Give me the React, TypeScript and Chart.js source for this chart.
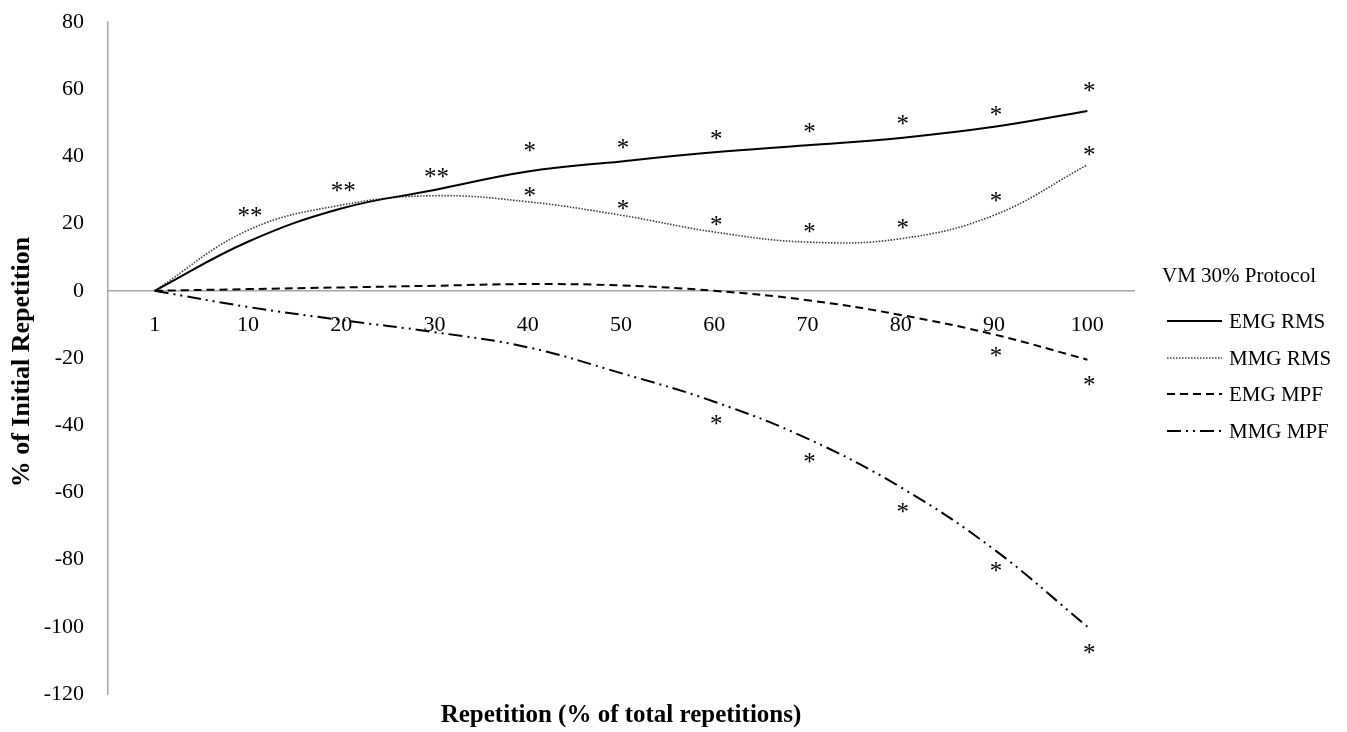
import React, { useEffect, useRef } from "react";
import { Chart, registerables } from "chart.js";

Chart.register(...registerables);

const categories = ["1", "10", "20", "30", "40", "50", "60", "70", "80", "90", "100"];

const emgRms = [0, 14.6, 24.5, 30, 35.5, 38.5, 41.2, 43.3, 45.5, 48.8, 53.5];
const mmgRms = [0, 18, 25.5, 28.3, 26.5, 22.5, 17.5, 14.5, 15.5, 22.5, 37.5];
const emgMpf = [0, 0.5, 1.0, 1.5, 2.0, 1.6, 0, -2.8, -7.2, -13, -20.5];
const mmgMpf = [0, -4.8, -8.7, -12.3, -16.8, -24.5, -33, -44, -58.5, -77, -100];

// significance markers (value at marker position, null = none)
const starsEmgRms = [null, 23.5, 31, 35, 43, 43.8, 46.5, 48.6, 50.9, 53.7, 60.6];
const starsEmgRmsText = ["", "**", "**", "**", "*", "*", "*", "*", "*", "*", "*"];
const starsMmgRms = [null, null, null, null, 29.4, 25.5, 20.8, 18.8, 20, 28.1, 41.8];
const starsEmgMpf = [null, null, null, null, null, null, null, null, null, -18.2, -26.9];
const starsMmgMpf = [null, null, null, null, null, null, -38.3, -49.7, -64.6, -82, -106.4];

const yTicks = [-120, -100, -80, -60, -40, -20, 0, 20, 40, 60, 80];

const legendTitle = "VM 30% Protocol";
const seriesNames = ["EMG RMS", "MMG RMS", "EMG MPF", "MMG MPF"];
const xTitle = "Repetition (% of total repetitions)";
const yTitle = "% of Initial Repetition";

const SERIF = '"Liberation Serif", "Times New Roman", Times, serif';

const styles = [
  { color: "#000000", width: 2, dash: [] as number[] },
  { color: "#3a3a3a", width: 1.6, dash: [1.5, 1.5] },
  { color: "#000000", width: 2, dash: [8, 5] },
  { color: "#000000", width: 2, dash: [14, 5, 2, 5, 2, 5] },
];

const overlayPlugin = {
  id: "overlay",
  afterDatasetsDraw(chart: any) {
    const ctx = chart.ctx;
    const xs = chart.scales.x;
    const ys = chart.scales.y;
    ctx.save();
    ctx.fillStyle = "#000";
    const fs = 25;
    ctx.font = `${fs}px ${SERIF}`;
    ctx.textAlign = "center";
    ctx.textBaseline = "alphabetic";
    const drawStars = (arr: (number | null)[], texts?: string[]) => {
      arr.forEach((v, i) => {
        if (v === null || v === undefined) return;
        const px = xs.getPixelForValue(i);
        const py = ys.getPixelForValue(v);
        const t = texts ? texts[i] : "*";
        ctx.fillText(t, px + 2, py + fs * 0.49);
      });
    };
    drawStars(starsEmgRms, starsEmgRmsText);
    drawStars(starsMmgRms);
    drawStars(starsEmgMpf);
    drawStars(starsMmgMpf);

    // legend
    ctx.textAlign = "left";
    ctx.textBaseline = "middle";
    ctx.font = `21px ${SERIF}`;
    ctx.fillText(legendTitle, 1162, 276);
    const rowY = [321, 358, 394, 431];
    seriesNames.forEach((name, i) => {
      const s = styles[i];
      ctx.save();
      ctx.strokeStyle = s.color;
      ctx.lineWidth = s.width;
      ctx.setLineDash(s.dash);
      ctx.beginPath();
      ctx.moveTo(1167, rowY[i]);
      ctx.lineTo(1222, rowY[i]);
      ctx.stroke();
      ctx.restore();
      ctx.font = `21px ${SERIF}`;
      ctx.fillText(name, 1229, rowY[i] + 1);
    });

    // axis titles
    ctx.font = `bold 25px ${SERIF}`;
    ctx.textAlign = "center";
    ctx.textBaseline = "middle";
    ctx.fillText(xTitle, 621, 716);
    ctx.save();
    ctx.translate(22, 362);
    ctx.rotate(-Math.PI / 2);
    ctx.font = `bold 26px ${SERIF}`;
    ctx.fillText(yTitle, 0, 0);
    ctx.restore();
    ctx.restore();
  },
};

export default function App() {
  const ref = useRef<HTMLCanvasElement | null>(null);
  useEffect(() => {
    if (!ref.current) return;
    const chart = new Chart(ref.current, {
      type: "line",
      data: {
        labels: categories,
        datasets: [emgRms, mmgRms, emgMpf, mmgMpf].map((d, i) => ({
          label: seriesNames[i],
          data: d,
          borderColor: styles[i].color,
          borderWidth: styles[i].width,
          borderDash: styles[i].dash,
          pointRadius: 0,
          pointHoverRadius: 0,
          fill: false,
          tension: 0.4,
        })),
      },
      options: {
        responsive: true,
        maintainAspectRatio: false,
        animation: false,
        events: [],
        layout: { padding: { left: 0, top: 22, right: 213, bottom: 38 } },
        plugins: {
          legend: { display: false },
          tooltip: { enabled: false },
          title: { display: false },
        },
        scales: {
          x: {
            type: "category",
            position: { y: 0 } as any,
            offset: true,
            afterFit(scale: any) {
              scale.height = 0;
              scale.paddingTop = 0;
              scale.paddingBottom = 0;
            },
            grid: { display: false, drawTicks: false },
            border: { display: true, color: "#a6a6a6", width: 1.5 },
            ticks: {
              padding: 21,
              color: "#000",
              font: { family: SERIF, size: 22 },
              maxRotation: 0,
              autoSkip: false,
            },
          },
          y: {
            min: -120,
            max: 80,
            afterFit(scale: any) {
              scale.width = 108;
              scale.paddingTop = 0;
              scale.paddingBottom = 0;
            },
            afterBuildTicks(scale: any) {
              scale.ticks = yTicks.map((v) => ({ value: v }));
            },
            grid: { display: false, drawTicks: false },
            border: { display: true, color: "#a6a6a6", width: 1.5 },
            ticks: {
              padding: 24,
              color: "#000",
              font: { family: SERIF, size: 22 },
            },
          },
        },
      },
      plugins: [overlayPlugin],
    });
    return () => chart.destroy();
  }, []);
  return (
    <div style={{ position: "fixed", left: 0, top: 0, width: 1347, height: 732, background: "#fff" }}>
      <canvas ref={ref} />
    </div>
  );
}
